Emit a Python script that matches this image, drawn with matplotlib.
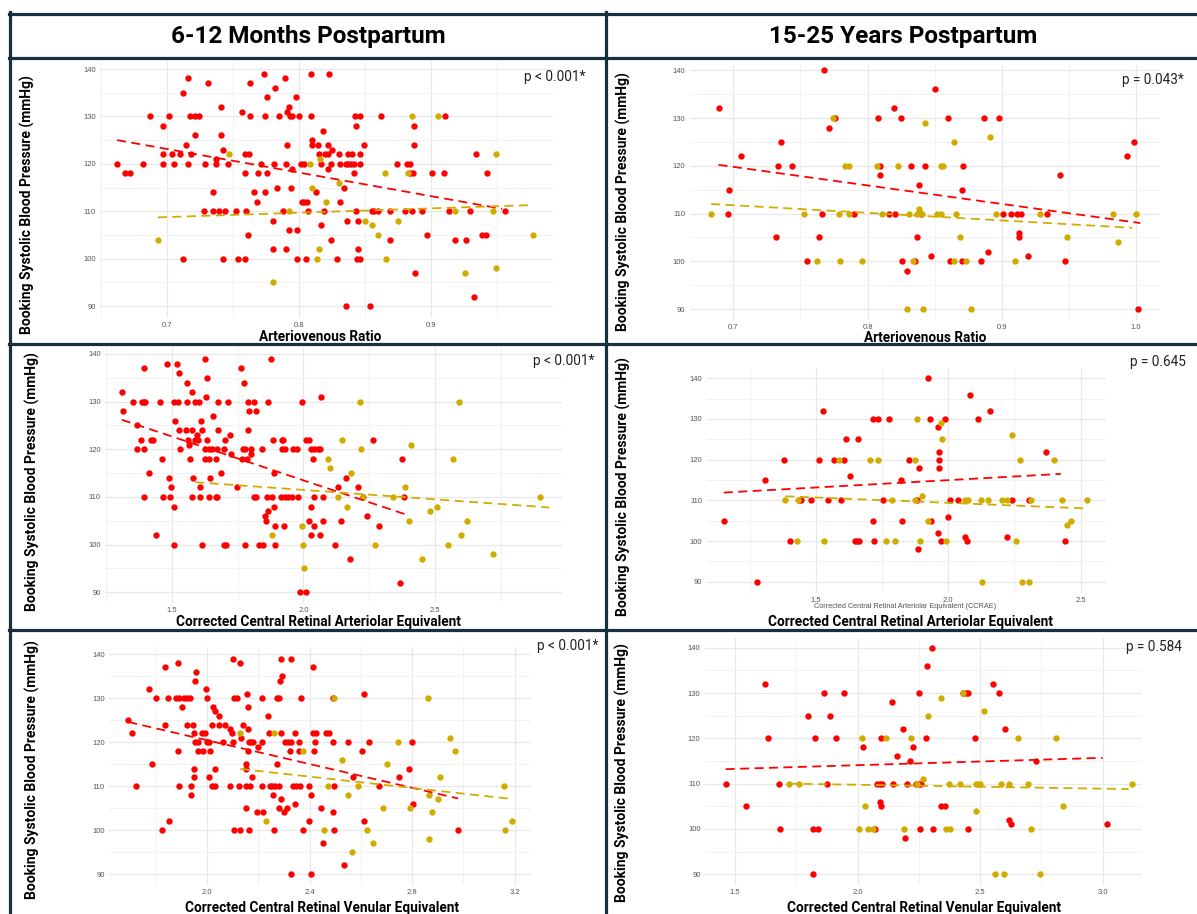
import matplotlib
matplotlib.use('Agg')
import matplotlib.pyplot as plt
from matplotlib.lines import Line2D
from matplotlib.ticker import FormatStrFormatter

W, H = 1197, 914
RED = '#ff0000'
GOLD = '#d1ac00'
NAVY = '#15303f'

col_titles = ['6-12 Months Postpartum', '15-25 Years Postpartum']
ylabel = 'Booking Systolic Blood Pressure (mmHg)'
xlabels = ['Arteriovenous Ratio',
           'Corrected Central Retinal Arteriolar Equivalent',
           'Corrected Central Retinal Venular Equivalent']
p_values = ['p < 0.001*', 'p = 0.043*', 'p < 0.001*', 'p = 0.645', 'p < 0.001*', 'p = 0.584']

# ---- panel 1: AVR, 6-12 months
p1_red_x = [0.662, 0.668, 0.672, 0.682, 0.687, 0.6965, 0.697, 0.697, 0.701, 0.704,
            0.705, 0.710, 0.712, 0.712, 0.714, 0.716, 0.716, 0.717, 0.721, 0.724,
            0.718, 0.721, 0.728, 0.729, 0.731, 0.735, 0.735, 0.737, 0.737, 0.7395,
            0.741, 0.741, 0.742, 0.742, 0.744, 0.746, 0.752, 0.754, 0.759, 0.757,
            0.759, 0.759, 0.762, 0.760, 0.761, 0.7625, 0.763, 0.766, 0.768, 0.769,
            0.771, 0.7735, 0.774, 0.774, 0.776, 0.776, 0.780, 0.780, 0.781, 0.782,
            0.783, 0.785, 0.788, 0.789, 0.790, 0.790, 0.791, 0.791, 0.792, 0.792,
            0.793, 0.794, 0.795, 0.795, 0.798, 0.7985, 0.7985, 0.800, 0.8015, 0.804,
            0.8025, 0.804, 0.806, 0.805, 0.807, 0.809, 0.809, 0.810, 0.810, 0.813,
            0.814, 0.815, 0.8165, 0.817, 0.818, 0.819, 0.8195, 0.822, 0.822, 0.822,
            0.823, 0.824, 0.824, 0.825, 0.829, 0.830, 0.831, 0.831, 0.834, 0.8355,
            0.8375, 0.8395, 0.842, 0.846, 0.836, 0.8355, 0.837, 0.840, 0.8465, 0.842,
            0.8425, 0.8465, 0.8435, 0.843, 0.845, 0.845, 0.844, 0.846, 0.849, 0.854,
            0.855, 0.857, 0.860, 0.862, 0.869, 0.869, 0.8745, 0.8805, 0.882, 0.884,
            0.884, 0.8865, 0.887, 0.8875, 0.886, 0.888, 0.893, 0.897, 0.901, 0.910,
            0.911, 0.9135, 0.918, 0.927, 0.930, 0.933, 0.9345, 0.9385, 0.9415, 0.9425, 0.9565]
p1_red_y = [120, 118, 118, 120, 130, 128, 122, 120, 130, 122,
            120, 122, 135, 100, 124, 138, 120, 130, 130, 130,
            122, 126, 110, 120, 137, 110, 114, 121, 120, 110,
            132, 126, 123, 100, 110, 120, 110, 100, 100, 131,
            118, 122, 122, 110, 105, 130, 137, 114, 112, 118,
            120, 139, 130, 114, 134, 118, 102, 108, 120, 136,
            115, 130, 110, 138, 120, 102, 131, 124, 132, 106,
            130, 115, 130, 119, 134, 106, 100, 130, 120, 120,
            112, 112, 112, 100, 110, 139, 130, 125, 124, 114,
            124, 122, 107, 120, 127, 110, 122, 122, 124, 119,
            139, 120, 104, 123, 100, 122, 112, 120, 115, 120,
            120, 120, 120, 120, 108, 90, 122, 122, 122, 118,
            130, 130, 128, 110, 108, 102, 100, 100, 124, 90,
            110, 110, 110, 130, 110, 104, 120, 110, 120, 120,
            118, 118, 128, 124, 110, 97, 110, 105, 118, 118,
            130, 110, 104, 104, 110, 92, 122, 105, 105, 118, 110]
p1_gold_x = [0.693, 0.7465, 0.780, 0.7925, 0.808, 0.810, 0.816, 0.8135, 0.815, 0.8205,
             0.830, 0.850, 0.855, 0.860, 0.8655, 0.866, 0.875, 0.883, 0.886, 0.9055,
             0.918, 0.9255, 0.947, 0.949, 0.949, 0.9775]
p1_gold_y = [104, 122, 95, 110, 120, 115, 121, 100, 102, 112,
             116, 108, 107, 105, 118, 100, 108, 118, 130, 130,
             110, 97, 110, 122, 98, 105]
p1_red_fit_x, p1_red_fit_y = [0.662, 0.954], [125.0, 110.5]
p1_gold_fit_x, p1_gold_fit_y = [0.693, 0.977], [108.7, 111.3]

# ---- panel 2: AVR, 15-25 years
p2_red_x = [0.689, 0.696, 0.697, 0.706, 0.732, 0.7335, 0.7355, 0.744, 0.755, 0.764,
            0.766, 0.7675, 0.771, 0.776, 0.790, 0.8075, 0.809, 0.809, 0.816, 0.820,
            0.8205, 0.825, 0.8255, 0.829, 0.832, 0.835, 0.837, 0.838, 0.840, 0.8425,
            0.847, 0.850, 0.8595, 0.861, 0.870, 0.8705, 0.871, 0.8845, 0.8865, 0.8895,
            0.898, 0.9005, 0.907, 0.911, 0.914, 0.9125, 0.913, 0.9195, 0.9335, 0.943,
            0.947, 0.993, 0.998, 1.0015]
p2_red_y = [132, 110, 115, 122, 105, 120, 125, 120, 100, 105,
            110, 140, 128, 130, 110, 130, 120, 118, 110, 132,
            110, 130, 100, 98, 120, 100, 105, 116, 110, 120,
            101, 136, 130, 100, 100, 115, 120, 100, 130, 102,
            130, 110, 110, 110, 110, 106, 105, 101, 110, 118,
            100, 122, 125, 90]
p2_gold_x = [0.6835, 0.7525, 0.762, 0.7745, 0.779, 0.7795, 0.783, 0.7865, 0.7865, 0.796,
             0.807, 0.8105, 0.823, 0.8295, 0.831, 0.8335, 0.8365, 0.838, 0.8405, 0.841,
             0.843, 0.852, 0.855, 0.8545, 0.856, 0.8645, 0.8655, 0.864, 0.869, 0.873,
             0.877, 0.891, 0.8955, 0.9095, 0.928, 0.9485, 0.9825, 0.9865, 0.9995]
p2_gold_y = [110, 110, 100, 130, 110, 100, 120, 120, 110, 100,
             120, 110, 120, 90, 110, 100, 110, 111, 110, 90,
             129, 110, 110, 120, 120, 125, 110, 100, 105, 100,
             90, 126, 110, 100, 110, 105, 110, 104, 110]
p2_red_fit_x, p2_red_fit_y = [0.689, 1.003], [120.2, 108.0]
p2_gold_fit_x, p2_gold_fit_y = [0.6835, 0.997], [112.0, 107.0]

# ---- panel 3: CRAE, 6-12 months
p3_red_x = [1.310, 1.315, 1.352, 1.366, 1.366, 1.382, 1.385, 1.395, 1.400, 1.395,
            1.394, 1.395, 1.414, 1.420, 1.430, 1.440, 1.456, 1.462, 1.468, 1.483,
            1.490, 1.493, 1.497, 1.509, 1.525, 1.512, 1.510, 1.510, 1.519, 1.526,
            1.526, 1.532, 1.557, 1.558, 1.554, 1.560, 1.565, 1.570, 1.578, 1.578,
            1.580, 1.578, 1.587, 1.605, 1.589, 1.594, 1.600, 1.608, 1.606, 1.612,
            1.615, 1.613, 1.625, 1.631, 1.632, 1.625, 1.640, 1.651, 1.625, 1.640,
            1.632, 1.641, 1.645, 1.658, 1.666, 1.673, 1.667, 1.673, 1.674, 1.677,
            1.685, 1.700, 1.702, 1.699, 1.706, 1.714, 1.720, 1.724, 1.749, 1.762,
            1.773, 1.770, 1.779, 1.766, 1.785, 1.779, 1.789, 1.789, 1.794, 1.802,
            1.802, 1.814, 1.820, 1.812, 1.821, 1.830, 1.847, 1.842, 1.853, 1.857,
            1.865, 1.863, 1.866, 1.878, 1.879, 1.884, 1.887, 1.888, 1.891, 1.893,
            1.916, 1.930, 1.940, 1.956, 1.980, 1.919, 1.924, 1.920, 1.929, 1.926,
            1.962, 1.977, 1.993, 1.985, 2.010, 2.010, 2.020, 2.020, 2.028, 2.030,
            2.029, 2.040, 2.055, 2.064, 2.035, 2.040, 2.041, 2.063, 2.065, 2.073,
            2.073, 2.120, 2.131, 2.144, 2.161, 2.176, 2.209, 2.228, 2.241, 2.265,
            2.286, 2.365, 2.374, 2.382]
p3_red_y = [132, 128, 130, 125, 120, 122, 130, 130, 130, 137,
            120, 110, 115, 122, 122, 102, 130, 118, 110, 138,
            114, 110, 112, 130, 130, 126, 108, 100, 138, 136,
            124, 120, 134, 130, 124, 122, 121, 118, 132, 124,
            114, 110, 130, 130, 122, 123, 122, 112, 110, 126,
            100, 124, 139, 131, 135, 120, 120, 120, 118, 118,
            122, 110, 114, 127, 110, 110, 118, 120, 124, 130,
            115, 120, 122, 100, 100, 130, 123, 119, 112, 137,
            134, 120, 120, 118, 118, 100, 130, 124, 128, 120,
            119, 130, 128, 110, 110, 100, 100, 120, 106, 105,
            107, 110, 130, 139, 110, 122, 108, 115, 104, 100,
            110, 110, 110, 110, 110, 122, 122, 120, 120, 104,
            120, 120, 130, 90, 90, 122, 122, 105, 102, 108,
            120, 120, 120, 120, 118, 104, 110, 102, 131, 105,
            110, 100, 112, 105, 114, 97, 112, 110, 106, 122,
            104, 92, 118, 110]
p3_gold_x = [1.882, 1.996, 1.999, 2.003, 2.095, 2.100, 2.145, 2.132, 2.164, 2.180,
             2.214, 2.217, 2.225, 2.273, 2.340, 2.387, 2.401, 2.407, 2.449, 2.480,
             2.506, 2.548, 2.568, 2.592, 2.600, 2.622, 2.720, 2.900]
p3_gold_y = [102, 104, 100, 95, 118, 116, 122, 110, 108, 115,
             130, 120, 110, 100, 110, 112, 105, 121, 97, 107,
             108, 100, 118, 130, 102, 105, 98, 110]
p3_red_fit_x, p3_red_fit_y = [1.310, 2.385], [126.2, 106.4]
p3_gold_fit_x, p3_gold_fit_y = [1.589, 2.933], [113.1, 107.8]

# ---- panel 4: CRAE, 15-25 years
p4_red_x = [1.152, 1.276, 1.309, 1.379, 1.404, 1.438, 1.442, 1.480, 1.513, 1.527,
            1.546, 1.569, 1.595, 1.608, 1.615, 1.628, 1.647, 1.655, 1.664, 1.660,
            1.714, 1.716, 1.735, 1.720, 1.755, 1.776, 1.821, 1.825, 1.851, 1.881,
            1.884, 1.888, 1.930, 1.936, 1.922, 1.962, 1.965, 1.965, 1.965, 1.962,
            1.971, 1.988, 2.000, 2.008, 2.035, 2.065, 2.071, 2.084, 2.113, 2.158,
            2.222, 2.241, 2.304, 2.368, 2.440]
p4_red_y = [105, 90, 115, 120, 100, 110, 110, 110, 120, 132,
            110, 120, 110, 120, 125, 116, 100, 100, 100, 125,
            105, 130, 130, 100, 110, 130, 115, 105, 120, 110,
            98, 118, 130, 105, 140, 128, 122, 120, 118, 102,
            100, 130, 106, 110, 110, 101, 100, 136, 130, 132,
            101, 110, 110, 122, 100]
p4_gold_x = [1.385, 1.430, 1.434, 1.529, 1.586, 1.706, 1.736, 1.763, 1.786, 1.800,
             1.873, 1.876, 1.881, 1.893, 1.900, 1.923, 1.972, 1.976, 1.992, 2.064,
             2.074, 2.124, 2.150, 2.126, 2.202, 2.221, 2.241, 2.257, 2.270, 2.277,
             2.306, 2.314, 2.400, 2.430, 2.450, 2.465, 2.526]
p4_gold_y = [110, 100, 110, 100, 120, 120, 120, 100, 110, 100,
             110, 120, 130, 100, 111, 105, 129, 125, 100, 110,
             110, 110, 110, 90, 110, 110, 126, 100, 120, 90,
             90, 110, 120, 110, 104, 105, 110]
p4_red_fit_x, p4_red_fit_y = [1.152, 2.425], [111.9, 116.5]
p4_gold_fit_x, p4_gold_fit_y = [1.385, 2.526], [111.0, 108.0]

# ---- panel 5: CRVE, 6-12 months
p5_red_x = [1.693, 1.706, 1.722, 1.775, 1.784, 1.803, 1.825, 1.836, 1.837, 1.848,
            1.851, 1.885, 1.879, 1.890, 1.909, 1.922, 1.934, 1.887, 1.891, 1.901,
            1.922, 1.945, 1.939, 1.939, 1.948, 1.951, 1.951, 1.955, 1.957, 1.954,
            1.963, 1.966, 1.984, 1.979, 1.991, 1.996, 1.999, 1.999, 2.007, 2.006,
            2.013, 2.018, 2.024, 2.031, 2.021, 2.030, 2.031, 2.048, 2.046, 2.063,
            2.069, 2.088, 2.088, 2.096, 2.100, 2.103, 2.107, 2.118, 2.107, 2.130,
            2.127, 2.125, 2.134, 2.139, 2.155, 2.151, 2.167, 2.154, 2.154, 2.154,
            2.160, 2.160, 2.164, 2.173, 2.181, 2.163, 2.160, 2.176, 2.196, 2.199,
            2.215, 2.216, 2.215, 2.219, 2.239, 2.243, 2.246, 2.255, 2.267, 2.279,
            2.257, 2.260, 2.272, 2.272, 2.282, 2.279, 2.285, 2.293, 2.287, 2.290,
            2.299, 2.290, 2.304, 2.315, 2.327, 2.313, 2.324, 2.328, 2.327, 2.336,
            2.349, 2.364, 2.342, 2.342, 2.358, 2.358, 2.366, 2.375, 2.396, 2.397,
            2.404, 2.406, 2.412, 2.412, 2.425, 2.422, 2.419, 2.443, 2.452, 2.466,
            2.476, 2.491, 2.491, 2.494, 2.493, 2.496, 2.536, 2.549, 2.569, 2.606,
            2.612, 2.612, 2.633, 2.669, 2.749, 2.788, 2.800, 2.804, 2.978]
p5_red_y = [125, 122, 110, 132, 115, 130, 100, 124, 137, 130,
            102, 138, 130, 130, 130, 130, 130, 118, 110, 128,
            124, 124, 110, 108, 114, 112, 122, 134, 136, 120,
            120, 118, 118, 122, 122, 132, 130, 120, 120, 112,
            118, 124, 128, 127, 110, 110, 114, 126, 124, 120,
            124, 123, 110, 122, 120, 139, 130, 130, 100, 100,
            138, 110, 121, 124, 131, 110, 110, 115, 114, 105,
            123, 128, 120, 120, 120, 100, 118, 112, 104, 119,
            120, 130, 110, 104, 126, 122, 110, 110, 110, 110,
            108, 100, 115, 130, 130, 105, 134, 135, 139, 107,
            104, 122, 120, 120, 120, 105, 118, 90, 139, 110,
            110, 110, 122, 106, 120, 118, 130, 100, 110, 102,
            108, 90, 137, 122, 122, 120, 118, 105, 97, 122,
            122, 130, 120, 110, 104, 100, 92, 120, 112, 118,
            131, 102, 120, 110, 112, 114, 120, 106, 100]
p5_gold_x = [2.130, 2.230, 2.260, 2.375, 2.458, 2.472, 2.497, 2.528, 2.548, 2.567,
             2.590, 2.624, 2.648, 2.687, 2.701, 2.745, 2.790, 2.861, 2.864, 2.866,
             2.878, 2.899, 2.909, 2.946, 2.966, 3.157, 3.164, 3.191]
p5_gold_y = [122, 102, 122, 118, 100, 110, 130, 116, 108, 95,
             110, 100, 97, 105, 115, 120, 105, 130, 108, 98,
             104, 107, 112, 121, 118, 110, 100, 102]
p5_red_fit_x, p5_red_fit_y = [1.693, 2.979], [124.6, 107.2]
p5_gold_fit_x, p5_gold_fit_y = [2.130, 3.185], [113.9, 107.1]

# ---- panel 6: CRVE, 15-25 years
p6_red_x = [1.461, 1.545, 1.620, 1.634, 1.678, 1.681, 1.796, 1.816, 1.819, 1.838,
            1.824, 1.863, 1.875, 1.886, 1.913, 1.945, 2.023, 2.070, 2.079, 2.089,
            2.100, 2.092, 2.097, 2.094, 2.142, 2.145, 2.159, 2.184, 2.193, 2.201,
            2.212, 2.226, 2.238, 2.249, 2.259, 2.249, 2.255, 2.279, 2.283, 2.302,
            2.308, 2.338, 2.358, 2.431, 2.441, 2.452, 2.450, 2.478, 2.553, 2.578,
            2.603, 2.618, 2.626, 2.729, 3.019]
p6_red_y = [110, 105, 132, 120, 110, 100, 125, 90, 100, 100,
            120, 130, 110, 125, 120, 130, 118, 100, 110, 110,
            110, 106, 105, 120, 128, 110, 116, 122, 98, 110,
            115, 118, 110, 110, 110, 130, 100, 120, 136, 140,
            100, 105, 105, 130, 130, 130, 100, 120, 132, 130,
            122, 102, 101, 115, 101]
p6_gold_x = [1.720, 1.759, 2.006, 2.016, 2.030, 2.040, 2.062, 2.114, 2.189, 2.217,
             2.240, 2.268, 2.287, 2.338, 2.360, 2.377, 2.374, 2.416, 2.430, 2.481,
             2.484, 2.492, 2.500, 2.517, 2.562, 2.598, 2.586, 2.617, 2.653, 2.696,
             2.707, 2.743, 2.810, 2.838, 3.120]
p6_gold_y = [110, 110, 100, 120, 105, 100, 100, 120, 100, 120,
             110, 111, 125, 129, 100, 100, 110, 110, 130, 104,
             110, 110, 110, 126, 90, 90, 110, 110, 120, 110,
             100, 90, 120, 105, 110]
p6_red_fit_x, p6_red_fit_y = [1.461, 3.000], [113.2, 115.7]
p6_gold_fit_x, p6_gold_fit_y = [1.720, 3.106], [110.0, 108.8]

y_ticks = [90, 100, 110, 120, 130, 140]
y_minor = [95, 105, 115, 125, 135]

panels = [
    dict(red=(p1_red_x, p1_red_y), gold=(p1_gold_x, p1_gold_y),
         rfit=(p1_red_fit_x, p1_red_fit_y), gfit=(p1_gold_fit_x, p1_gold_fit_y),
         box=(100, 62, 553, 318), xr=((0.7, 167.2), (0.9, 430.9)), yr=((140, 69), (90, 306)),
         xt=[0.7, 0.8, 0.9], xm=[0.65, 0.75, 0.85, 0.95]),
    dict(red=(p2_red_x, p2_red_y), gold=(p2_gold_x, p2_gold_y),
         rfit=(p2_red_fit_x, p2_red_fit_y), gfit=(p2_gold_fit_x, p2_gold_fit_y),
         box=(689.5, 65, 1159.8, 320), xr=((0.7, 733.3), (1.0, 1136.2)), yr=((140, 70.3), (90, 309)),
         xt=[0.7, 0.8, 0.9, 1.0], xm=[0.75, 0.85, 0.95]),
    dict(red=(p3_red_x, p3_red_y), gold=(p3_gold_x, p3_gold_y),
         rfit=(p3_red_fit_x, p3_red_fit_y), gfit=(p3_gold_fit_x, p3_gold_fit_y),
         box=(105, 347, 562, 603), xr=((1.5, 171.8), (2.5, 435.1)), yr=((140, 354), (90, 592.3)),
         xt=[1.5, 2.0, 2.5], xm=[1.25, 1.75, 2.25, 2.75]),
    dict(red=(p4_red_x, p4_red_y), gold=(p4_gold_x, p4_gold_y),
         rfit=(p4_red_fit_x, p4_red_fit_y), gfit=(p4_gold_fit_x, p4_gold_fit_y),
         box=(706.6, 368, 1105.7, 593.3), xr=((1.5, 815.9), (2.5, 1080.6)), yr=((140, 378.3), (90, 581.7)),
         xt=[1.5, 2.0, 2.5], xm=[1.25, 1.75, 2.25]),
    dict(red=(p5_red_x, p5_red_y), gold=(p5_gold_x, p5_gold_y),
         rfit=(p5_red_fit_x, p5_red_fit_y), gfit=(p5_gold_fit_x, p5_gold_fit_y),
         box=(109, 647, 531, 885), xr=((2.0, 207), (3.2, 514.7)), yr=((140, 654.3), (90, 874)),
         xt=[2.0, 2.4, 2.8, 3.2], xm=[1.8, 2.2, 2.6, 3.0]),
    dict(red=(p6_red_x, p6_red_y), gold=(p6_gold_x, p6_gold_y),
         rfit=(p6_red_fit_x, p6_red_fit_y), gfit=(p6_gold_fit_x, p6_gold_fit_y),
         box=(704.7, 638, 1141.5, 885), xr=((1.5, 735.2), (3.0, 1102.7)), yr=((140, 647.7), (90, 874.3)),
         xt=[1.5, 2.0, 2.5, 3.0], xm=[1.75, 2.25, 2.75]),
]


def lims(ref, a, b):
    (v1, q1), (v2, q2) = ref
    s = (q2 - q1) / (v2 - v1)
    return v1 + (a - q1) / s, v1 + (b - q1) / s


fig = plt.figure(figsize=(W / 100, H / 100), dpi=100)
fig.patch.set_facecolor('white')

for p in panels:
    l, t, r, b = p['box']
    ax = fig.add_axes([l / W, 1 - b / H, (r - l) / W, (b - t) / H])
    ax.set_xlim(*lims(p['xr'], l, r))
    ax.set_ylim(*lims(p['yr'], b, t))
    ax.set_xticks(p['xt'])
    ax.set_xticks(p['xm'], minor=True)
    ax.set_yticks(y_ticks)
    ax.set_yticks(y_minor, minor=True)
    ax.xaxis.set_major_formatter(FormatStrFormatter('%.1f'))
    ax.grid(which='major', color='#e8e8e8', lw=0.9)
    ax.grid(which='minor', color='#f2f2f2', lw=0.7)
    ax.set_axisbelow(True)
    for s in ax.spines.values():
        s.set_visible(False)
    ax.tick_params(which='both', length=0, labelsize=5.5, labelcolor='#555555', pad=3)
    for lab in ax.get_xticklabels() + ax.get_yticklabels():
        lab.set_family('Liberation Sans')
    ax.scatter(*p['red'], s=21, color=RED, linewidths=0, zorder=3)
    ax.scatter(*p['gold'], s=21, color=GOLD, linewidths=0, zorder=3)
    ax.plot(*p['rfit'], color=RED, lw=1.3, ls=(0, (5, 3)), zorder=4)
    ax.plot(*p['gfit'], color=GOLD, lw=1.3, ls=(0, (5, 3)), zorder=4)


def ftext(x, y, s, **kw):
    fig.text(x / W, 1 - y / H, s, ha='center', va='center', **kw)


# CCRAE label left over inside the right-hand arteriolar plot
ftext(905, 607, 'Corrected Central Retinal Arteriolar Equivalent (CCRAE)',
      fontsize=5.3, color='#555555', family='Liberation Sans')

ftext(308, 36, col_titles[0], fontsize=17.5, fontweight='bold', family='Roboto')
ftext(903, 36, col_titles[1], fontsize=17.5, fontweight='bold', family='Roboto')

for x, y in [(27, 205), (32, 482), (32, 770), (623, 202), (623, 487), (622, 773)]:
    ftext(x, y, ylabel, rotation=90, fontsize=10, fontweight='bold', family='Roboto')

for (x, y), s in zip([(320, 337), (925, 337.5), (318, 622), (910, 622), (322, 908), (924, 908)],
                     [xlabels[0], xlabels[0], xlabels[1], xlabels[1], xlabels[2], xlabels[2]]):
    ftext(x, y, s, fontsize=9.8, fontweight='bold', family='Roboto')

for (x, y), s in zip([(555, 77), (1153, 80), (564, 361), (1158, 362), (568, 646), (1154, 647)], p_values):
    ftext(x, y, s, fontsize=9.8, color='#222222', family='Roboto')

# table borders
for y in [13.5, 57.5, 343.5, 629.5]:
    fig.add_artist(Line2D([9 / W, 1], [1 - y / H, 1 - y / H], transform=fig.transFigure,
                          color=NAVY, lw=2.3))
for x in [9.5, 606]:
    fig.add_artist(Line2D([x / W, x / W], [1 - 12 / H, 0], transform=fig.transFigure,
                          color=NAVY, lw=2.3))

fig.savefig('out.png', dpi=100)
